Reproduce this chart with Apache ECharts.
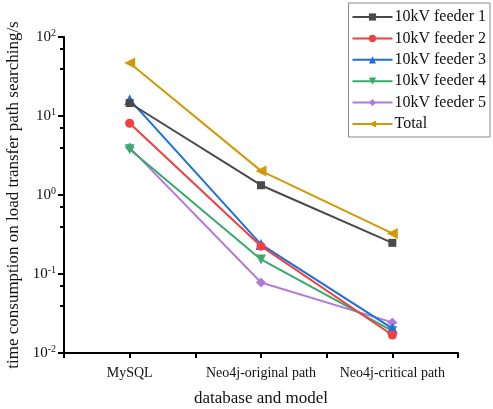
<!DOCTYPE html>
<html>
<head>
<meta charset="utf-8">
<script src="https://cdn.jsdelivr.net/npm/echarts@6/dist/echarts.min.js"></script>
<style>
  html, body { margin: 0; padding: 0; background: #fff; }
  #chart { width: 493px; height: 409px; }
</style>
</head>
<body>
<div id="chart"></div>
<script>
// categories on the x axis
var categories = ["MySQL", "Neo4j-original path", "Neo4j-critical path"];

// time per search (s)
var feeder1 = [14.6, 1.33, 0.248];
var feeder2 = [8.1, 0.225, 0.0169];
var feeder3 = [16.1, 0.237, 0.0205];
var feeder4 = [3.79, 0.153, 0.019];
var feeder5 = [3.98, 0.078, 0.0244];
var total = [46.8, 2.02, 0.326];

var seriesNames = ["10kV feeder 1", "10kV feeder 2", "10kV feeder 3", "10kV feeder 4", "10kV feeder 5", "Total"];
var tickSlots = ["", "", "", "", "", "", ""];

var font = "Liberation Serif";
var colors = ["#4a4a4a", "#f23f3f", "#1c6fe0", "#38aa6a", "#b37ade", "#cf9a05"];
var symbols = [
  "rect",
  "circle",
  "triangle",
  "path://M0,0 L10,0 L5,9 Z",
  "diamond",
  "path://M0,5 L9,0 L9,10 Z"
];
var sizes = [8, 9, 11, 10, 10, 11];
var allData = [feeder1, feeder2, feeder3, feeder4, feeder5, total];

var series = [];
for (var i = 0; i < allData.length; i++) {
  series.push({
    name: seriesNames[i],
    type: "line",
    data: allData[i],
    symbol: symbols[i],
    symbolSize: sizes[i],
    showAllSymbol: true,
    lineStyle: { color: colors[i], width: 2 },
    itemStyle: { color: colors[i] },
    emphasis: { disabled: true },
    z: 10 - i
  });
}

var chart = echarts.init(document.getElementById("chart"));
var option = {
  animation: false,
  textStyle: { fontFamily: font },
  grid: { left: 64, right: 35, top: 37, bottom: 56, containLabel: false, outerBoundsMode: "none" },
  legend: {
    orient: "vertical",
    right: 3,
    top: 3,
    padding: [6, 4, 5, 3],
    itemGap: 5.4,
    itemWidth: 40,
    itemHeight: 9,
    borderColor: "#888",
    borderWidth: 1,
    borderRadius: 0,
    textStyle: { fontFamily: font, fontSize: 16, color: "#111", padding: [0, 0, 0, -3] },
    data: seriesNames
  },
  xAxis: [{
    type: "category",
    data: categories,
    boundaryGap: true,
    name: "database and model",
    nameLocation: "middle",
    nameGap: 37,
    nameTextStyle: { fontFamily: font, fontSize: 17, color: "#111" },
    axisLine: { show: true, lineStyle: { color: "#000", width: 2 } },
    axisTick: { show: false },
    axisLabel: { fontFamily: font, fontSize: 14, color: "#111", margin: 13, interval: 0 },
    splitLine: { show: false }
  }, {
    type: "category",
    data: tickSlots,
    boundaryGap: false,
    position: "bottom",
    axisLine: { show: false },
    axisTick: { show: true, length: 5, interval: 0, lineStyle: { color: "#000", width: 2 } },
    axisLabel: { show: false },
    splitLine: { show: false }
  }],
  yAxis: {
    type: "log",
    logBase: 10,
    min: 0.01,
    max: 100,
    name: "time consumption on load transfer path searching/s",
    nameLocation: "middle",
    nameGap: 39,
    nameTextStyle: { fontFamily: font, fontSize: 17, color: "#111" },
    axisLine: { show: true, lineStyle: { color: "#000", width: 2 } },
    axisTick: { show: true, length: 6, lineStyle: { color: "#000", width: 2 } },
    minorTick: { show: true, splitNumber: 3, length: 4, lineStyle: { color: "#000", width: 2 } },
    splitLine: { show: false },
    axisLabel: {
      margin: 8,
      formatter: function (v) {
        var e = Math.round(Math.log10(v));
        return "{b|10}{s|" + e + "}";
      },
      rich: {
        b: { fontFamily: font, fontSize: 15, color: "#111" },
        s: { fontFamily: font, fontSize: 10, color: "#111", padding: [0, 0, 8, 0] }
      }
    }
  },
  series: series
};
chart.setOption(option);
</script>
</body>
</html>
